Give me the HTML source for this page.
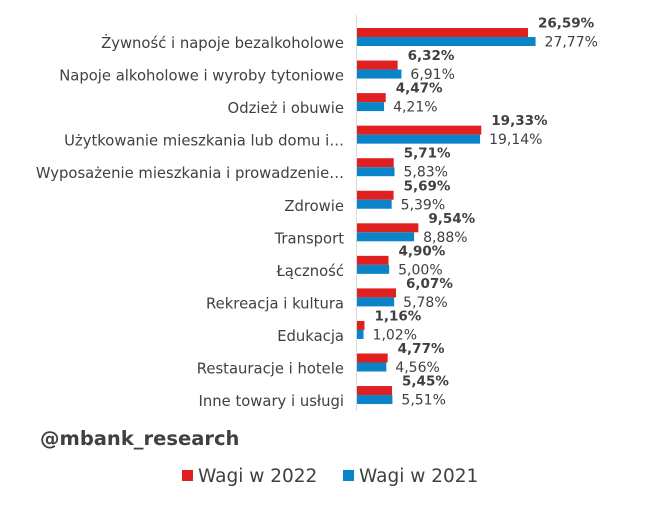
<!DOCTYPE html>
<html><head><meta charset="utf-8"><style>
body{margin:0;width:656px;height:504px;background:#fff;overflow:hidden;font-family:"DejaVu Sans","Liberation Sans",sans-serif;}
</style></head><body>
<svg width="656" height="504" xmlns="http://www.w3.org/2000/svg" font-family="DejaVu Sans, Liberation Sans, sans-serif">
<line x1="356.5" y1="15" x2="356.5" y2="411" stroke="#d9d9d9" stroke-width="1"/>
<g id="g"></g>
<text x="40" y="445" font-size="19.5" font-weight="bold" fill="#404040">@mbank_research</text>
<rect x="182" y="470" width="11" height="11" fill="#e02020"/>
<text x="198" y="482" font-size="18.5" fill="#404040">Wagi w 2022</text>
<rect x="343" y="470" width="11" height="11" fill="#0a84c8"/>
<text x="359" y="482" font-size="18.5" fill="#404040">Wagi w 2021</text>
</svg>
<script>
var d=[["Żywność i napoje bezalkoholowe",26.59,27.77],["Napoje alkoholowe i wyroby tytoniowe",6.32,6.91],["Odzież i obuwie",4.47,4.21],["Użytkowanie mieszkania lub domu i…",19.33,19.14],["Wyposażenie mieszkania i prowadzenie…",5.71,5.83],["Zdrowie",5.69,5.39],["Transport",9.54,8.88],["Łączność",4.90,5.00],["Rekreacja i kultura",6.07,5.78],["Edukacja",1.16,1.02],["Restauracje i hotele",4.77,4.56],["Inne towary i usługi",5.45,5.51]];
var s='',k=6.43,x0=357;
function f(v){return v.toFixed(2).replace('.',',')+'%';}
d.forEach(function(r,i){var y=28+i*32.55;var a=r[1]*k,b=r[2]*k;
s+='<rect x="'+x0+'" y="'+y+'" width="'+a+'" height="9" fill="#e02020"/>';
s+='<rect x="'+x0+'" y="'+(y+9)+'" width="'+b+'" height="9" fill="#0a84c8"/>';
s+='<text x="344" y="'+(y+20)+'" font-size="14.8" fill="#404040" text-anchor="end">'+r[0]+'</text>';
s+='<text x="'+(x0+a+10)+'" y="'+(y-0.5)+'" font-size="13.5" font-weight="bold" fill="#404040">'+f(r[1])+'</text>';
s+='<text x="'+(x0+b+9)+'" y="'+(y+18.5)+'" font-size="14" fill="#404040">'+f(r[2])+'</text>';});
document.getElementById('g').innerHTML=s;
</script>
</body></html>
